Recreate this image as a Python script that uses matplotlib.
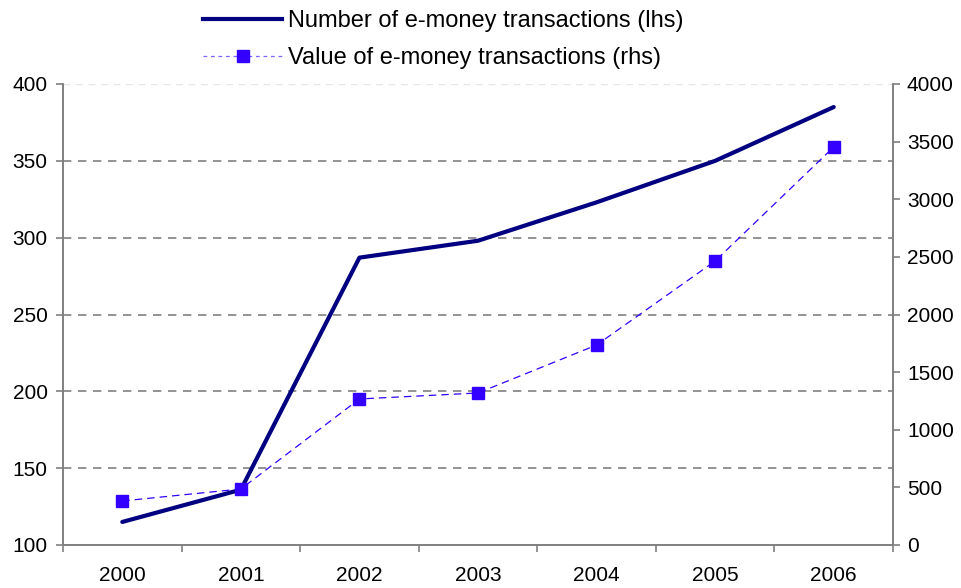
import matplotlib.pyplot as plt
from matplotlib.lines import Line2D

plt.rcParams['font.family'] = ['Liberation Sans', 'DejaVu Sans']

years = ['2000', '2001', '2002', '2003', '2004', '2005', '2006']
number_tx = [115, 136, 287, 298, 323, 350, 385]
value_tx = [382, 486, 1267, 1319, 1735, 2464, 3453]

left_ticks = [100, 150, 200, 250, 300, 350, 400]
right_ticks = [0, 500, 1000, 1500, 2000, 2500, 3000, 3500, 4000]

fig = plt.figure(figsize=(9.61, 5.88), dpi=100)
ax = fig.add_axes([63 / 961, 1 - 545 / 588, 830 / 961, 461 / 588])
ax2 = ax.twinx()

x = list(range(len(years)))

# grid lines (left scale)
for t in left_ticks[1:-1]:
    ax.axhline(t, color='#808080', lw=1.2, ls=(0, (5, 4)), zorder=1)
ax.axhline(400, color='#e6e6e6', lw=1, ls=(0, (5, 4)), zorder=1)

ln1, = ax.plot(x, number_tx, color='#000080', lw=3, solid_capstyle='round', zorder=3)
ln2, = ax2.plot(x, value_tx, color='#3300ff', lw=0.9, ls=(0, (6, 4)),
                marker='s', ms=8, mfc='#3300ff', mec='#3300ff', zorder=3)

ax.set_xlim(-0.5, len(years) - 0.5)
ax.set_ylim(100, 400)
ax2.set_ylim(0, 4000)
ax.set_yticks(left_ticks)
ax2.set_yticks(right_ticks)

ax.set_xticks(x)
ax.set_xticklabels(years)
ax.set_xticks([i - 0.5 for i in range(len(years) + 1)], minor=True)
ax.tick_params(axis='x', which='major', length=0, labelsize=15, pad=15)
ax.tick_params(axis='x', which='minor', length=5, color='#808080', width=1.2)
ax.tick_params(axis='y', length=5, color='#808080', width=1.2, labelsize=15, pad=6)
ax2.tick_params(axis='y', length=5, color='#808080', width=1.2, labelsize=15, pad=5)

for a in (ax, ax2):
    a.spines['top'].set_visible(False)
    for s in ('left', 'right', 'bottom'):
        a.spines[s].set_color('#808080')
        a.spines[s].set_linewidth(1.2)

h1 = Line2D([], [], color='#000080', lw=3)
h2 = Line2D([], [], color='#7766ff', lw=0.9, ls=(0, (3, 3)),
            marker='s', ms=8, mfc='#3300ff', mec='#3300ff')
fig.legend([h1, h2],
           ['Number of e-money transactions (lhs)', 'Value of e-money transactions (rhs)'],
           loc='upper left', bbox_to_anchor=(203 / 961, 1 - 10 / 588), frameon=False,
           borderpad=0, borderaxespad=0,
           fontsize=17, handlelength=3.35, labelspacing=0.63, handletextpad=0.25)

fig.savefig('out.png', dpi=100)
